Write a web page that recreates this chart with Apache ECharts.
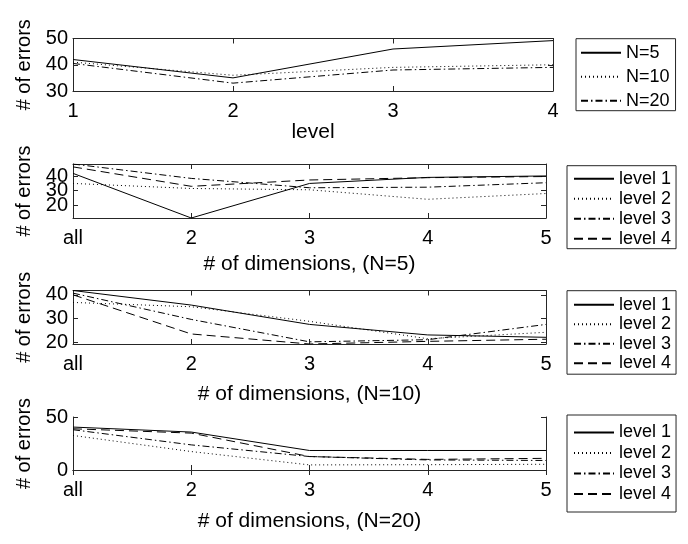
<!DOCTYPE html>
<html><head><meta charset="utf-8">
<script src="https://cdn.jsdelivr.net/npm/echarts@6/dist/echarts.min.js"></script>
<style>html,body{margin:0;padding:0;background:#fff}#c{width:688px;height:544px}</style>
</head><body><div id="c"></div>
<script>
// ---- data ----
const levelCats = ['1', '2', '3', '4'];
const n5 = [42, 35, 46, 49.2];
const n10 = [41, 36, 39, 40];
const n20 = [40.5, 33, 38, 39];

const dimCats = ['all', '2', '3', '4', '5'];
const p2L1 = [42, 11, 35, 39.2, 40.2];
const p2L2 = [35, 31.5, 30.6, 24, 28];
const p2L3 = [48.5, 38.5, 32, 32.4, 35.5];
const p2L4 = [46.5, 33, 37.4, 39, 39.8];

const p3L1 = [41.8, 35.7, 27.6, 23.2, 22.2];
const p3L2 = [36.8, 35, 28.9, 21.6, 24.3];
const p3L3 = [40.7, 29.7, 20.3, 21.2, 27.6];
const p3L4 = [40, 23.6, 19.4, 20.5, 21.4];

const p4L1 = [40.5, 35.8, 18.4, 18.4, 18.4];
const p4L2 = [32.6, 17.4, 4.8, 5, 5.4];
const p4L3 = [38, 23.7, 12.7, 9.5, 9];
const p4L4 = [38.9, 34.8, 12.7, 10, 11];

const yTicks1 = [30, 40, 50];
const yTicks2 = [20, 30, 40];
const yTicks3 = [20, 30, 40];
const yTicks4 = [0, 50];

// ---- styles ----
const FONT = 'Liberation Sans';
const FS = 20;
const AX = '#262626';
const dashStyles = {
  solid: 'solid',
  dotted: [1, 3],
  dashdot: [7, 3, 1.5, 3],
  dashed: [9, 5]
};
const styleOrder = ['solid', 'dotted', 'dashdot', 'dashed'];

const grids = [
  {left: 73, top: 38.5, width: 480, height: 52.5},
  {left: 73, top: 164, width: 473, height: 54},
  {left: 73, top: 290.5, width: 473, height: 53.5},
  {left: 73, top: 417, width: 473, height: 53}
];

const xNames = ['level', '# of dimensions, (N=5)', '# of dimensions, (N=10)', '# of dimensions, (N=20)'];
const xCats = [levelCats, dimCats, dimCats, dimCats];
const yRanges = [
  {min: 30, max: 50, ticks: yTicks1},
  {min: 11, max: 48.5, ticks: yTicks2},
  {min: 19.4, max: 41.8, ticks: yTicks3},
  {min: 0, max: 50, ticks: yTicks4}
];
const xNameGaps = [29, 36, 40, 41];

const xAxes = [], yAxes = [];
grids.forEach((g, i) => {
  xAxes.push({
    type: 'category', gridIndex: i, data: xCats[i], boundaryGap: false,
    position: 'bottom',
    name: xNames[i], nameLocation: 'middle', nameGap: xNameGaps[i],
    nameTextStyle: {fontFamily: FONT, fontSize: 21, color: '#000'},
    axisLine: {show: true, lineStyle: {color: AX, width: 1}},
    axisTick: {show: true, inside: true, length: 5, interval: 0, lineStyle: {color: AX}},
    axisLabel: {interval: 0, fontFamily: FONT, fontSize: FS, color: '#000', margin: 10, hideOverlap: false},
    splitLine: {show: false}
  });
  xAxes.push({
    type: 'category', gridIndex: i, data: xCats[i], boundaryGap: false,
    position: 'top',
    axisLine: {show: true, lineStyle: {color: AX, width: 1}},
    axisTick: {show: true, inside: true, length: 5, interval: 0, lineStyle: {color: AX}},
    axisLabel: {show: false}, splitLine: {show: false}
  });
  const r = yRanges[i];
  // panel 2: tick labels are closer together than the font height; draw them as one
  // stacked label at the middle tick so they overlap like the original
  let labelCfg;
  if (i === 1) {
    const mid = r.ticks[1];
    const pxPerTick = g.height / (r.max - r.min) * (r.ticks[1] - r.ticks[0]);
    labelCfg = {
      customValues: [mid], fontFamily: FONT, fontSize: FS, color: '#000', margin: 5,
      lineHeight: pxPerTick,
      formatter: () => r.ticks.slice().reverse().join('\n')
    };
  } else {
    labelCfg = {customValues: r.ticks, fontFamily: FONT, fontSize: FS, color: '#000', margin: 5, hideOverlap: false};
  }
  yAxes.push({
    type: 'value', gridIndex: i, min: r.min, max: r.max, position: 'left',
    name: '# of errors', nameLocation: 'middle', nameGap: 39, nameRotate: 90,
    nameTextStyle: {fontFamily: FONT, fontSize: FS, color: '#000'},
    axisLine: {show: true, lineStyle: {color: AX, width: 1}},
    axisTick: {show: true, inside: true, length: 5, customValues: r.ticks, lineStyle: {color: AX}},
    axisLabel: labelCfg,
    splitLine: {show: false}
  });
  yAxes.push({
    type: 'value', gridIndex: i, min: r.min, max: r.max, position: 'right',
    axisLine: {show: true, lineStyle: {color: AX, width: 1}},
    axisTick: {show: true, inside: true, length: 5, customValues: r.ticks, lineStyle: {color: AX}},
    axisLabel: {show: false}, splitLine: {show: false}
  });
});

const panelData = [
  [n5, n10, n20],
  [p2L1, p2L2, p2L3, p2L4],
  [p3L1, p3L2, p3L3, p3L4],
  [p4L1, p4L2, p4L3, p4L4]
];
const panelNames = [
  ['N=5', 'N=10', 'N=20'],
  ['level 1', 'level 2', 'level 3', 'level 4'],
  ['level 1', 'level 2', 'level 3', 'level 4'],
  ['level 1', 'level 2', 'level 3', 'level 4']
];
const panelStyles = [
  ['solid', 'dotted', 'dashdot'],
  styleOrder, styleOrder, styleOrder
];

const series = [];
panelData.forEach((arrs, i) => {
  arrs.forEach((d, k) => {
    series.push({
      type: 'line', name: panelNames[i][k], data: d,
      xAxisIndex: i * 2, yAxisIndex: i * 2,
      symbol: 'none', silent: true, animation: false,
      lineStyle: {color: '#000', width: 1, type: dashStyles[panelStyles[i][k]]},
      itemStyle: {color: '#000'}
    });
  });
});

function mkLegend(i, left, top, gap, pad, tw) {
  return {
    orient: 'vertical', left: left, top: top, data: panelNames[i],
    itemWidth: 40, itemHeight: 14, itemGap: gap, padding: pad,
    borderColor: AX, borderWidth: 1, backgroundColor: '#fff',
    selectedMode: false,
    itemStyle: {color: 'rgba(0,0,0,0)', borderColor: 'rgba(0,0,0,0)', borderWidth: 0, opacity: 0},
    textStyle: {fontFamily: FONT, fontSize: 18, color: '#000', width: tw}
  };
}
const legends = [
  mkLegend(0, 576, 38.7, 6, [5, 6, 1, 4], 46),
  mkLegend(1, 567, 165.7, 2, [4, 5, 1, 6], 55),
  mkLegend(2, 567, 290.7, 1.5, [5, 5, 2, 6], 55),
  mkLegend(3, 567, 415, 2.5, [8.5, 5, 9, 6], 55)
];

const chart = echarts.init(document.getElementById('c'), null, {renderer: 'canvas'});
chart.setOption({
  animation: false,
  backgroundColor: '#fff',
  grid: grids.map(g => Object.assign({show: false, containLabel: false}, g)),
  xAxis: xAxes,
  yAxis: yAxes,
  legend: legends,
  series: series
});
</script>
</body></html>
